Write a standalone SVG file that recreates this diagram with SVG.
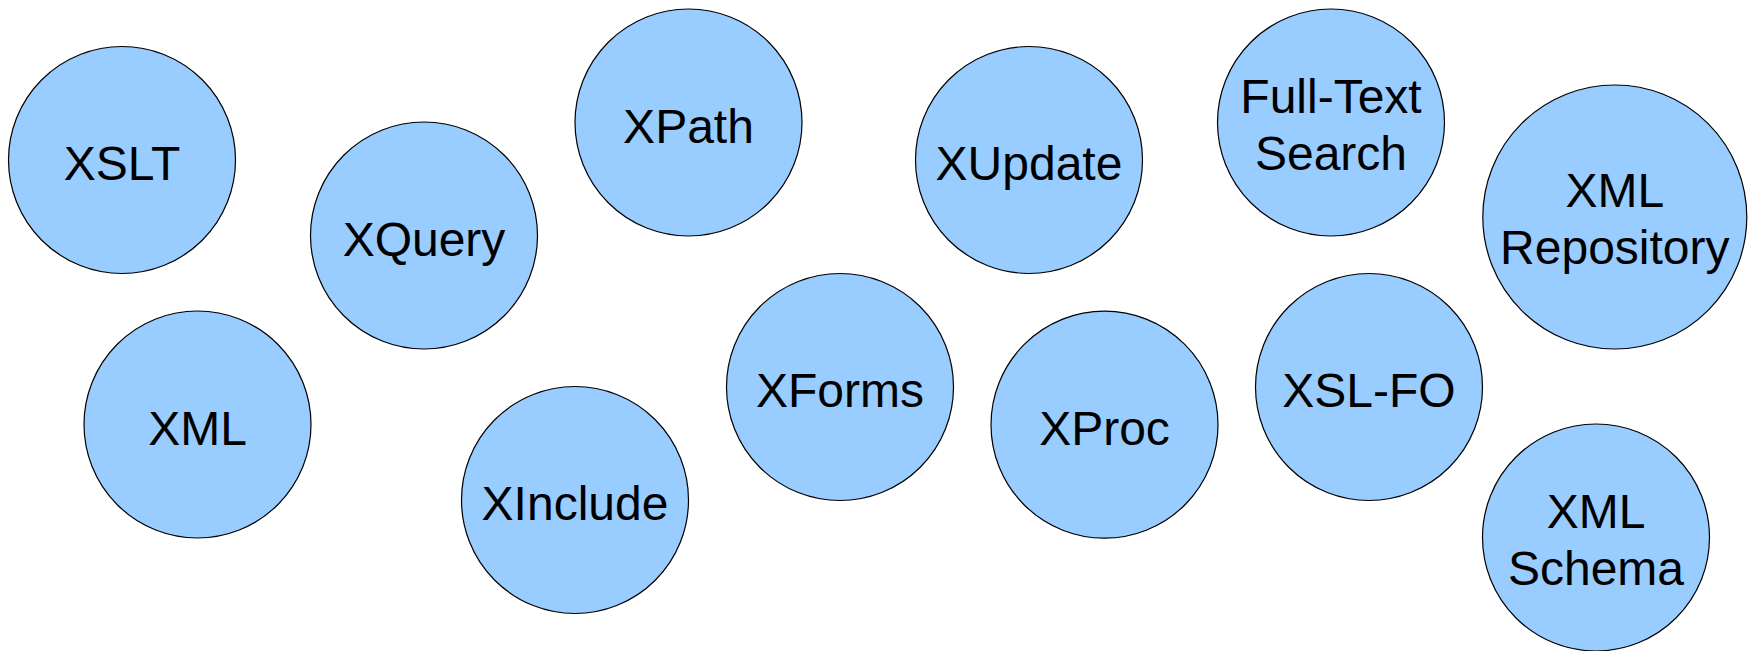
<svg xmlns="http://www.w3.org/2000/svg" width="1756" height="651" viewBox="0 0 1756 651">
<style>
.n circle{fill:#99ccff;stroke:#000;stroke-width:1.2}
.n text{font-family:"Liberation Sans",Arial,sans-serif;font-size:48px;fill:#000;text-anchor:middle}
</style>
<rect width="1756" height="651" fill="#fff"/>
<g id="connectors"/>
<g id="xslt" class="n"><circle cx="122" cy="160" r="113.5"/><text x="122" y="180">XSLT</text></g>
<g id="xquery" class="n"><circle cx="424" cy="235.5" r="113.5"/><text x="424" y="255.5">XQuery</text></g>
<g id="xml" class="n"><circle cx="197.5" cy="424.5" r="113.5"/><text x="197.5" y="444.5">XML</text></g>
<g id="xinclude" class="n"><circle cx="575" cy="500" r="113.5"/><text x="575" y="520">XInclude</text></g>
<g id="xpath" class="n"><circle cx="688.5" cy="122.5" r="113.5"/><text x="688.5" y="142.5">XPath</text></g>
<g id="xforms" class="n"><circle cx="840" cy="387" r="113.5"/><text x="840" y="407">XForms</text></g>
<g id="xupdate" class="n"><circle cx="1029" cy="160" r="113.5"/><text x="1029" y="180">XUpdate</text></g>
<g id="xproc" class="n"><circle cx="1104.5" cy="424.7" r="113.5"/><text x="1104.5" y="444.7">XProc</text></g>
<g id="fulltext" class="n"><circle cx="1331" cy="122.5" r="113.5"/><text x="1331" y="113">Full-Text</text><text x="1331" y="170">Search</text></g>
<g id="xslfo" class="n"><circle cx="1369" cy="387" r="113.5"/><text x="1369" y="407">XSL-FO</text></g>
<g id="xmlrepo" class="n"><circle cx="1614.8" cy="217" r="132"/><text x="1614.8" y="207">XML</text><text x="1614.8" y="264">Repository</text></g>
<g id="xmlschema" class="n"><circle cx="1596" cy="537.5" r="113.5"/><text x="1596" y="528">XML</text><text x="1596" y="585">Schema</text></g>
</svg>
